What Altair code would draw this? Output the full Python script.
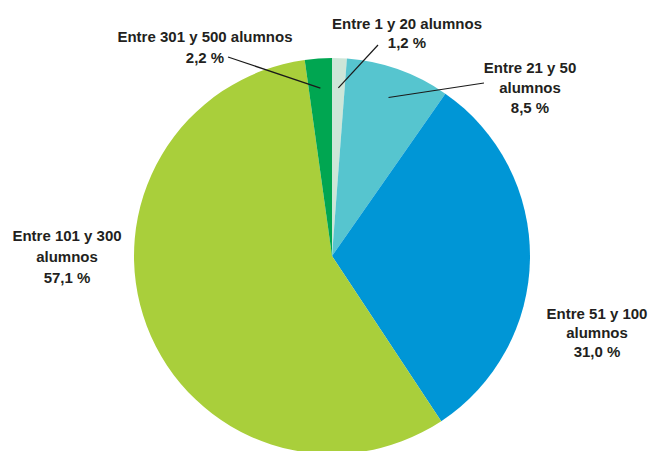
import math
import altair as alt
import pandas as pd

# ---- data ----
categories = [
    "Entre 1 y 20 alumnos",
    "Entre 21 y 50 alumnos",
    "Entre 51 y 100 alumnos",
    "Entre 101 y 300 alumnos",
    "Entre 301 y 500 alumnos",
]
values = [1.2, 8.5, 31.0, 57.1, 2.2]
colors = ["#cde6d8", "#56c5cf", "#0096d6", "#a9cf3b", "#00a651"]

# label text lines (name split as in the original)
label_lines = [
    ["Entre 1 y 20 alumnos"],
    ["Entre 21 y 50", "alumnos"],
    ["Entre 51 y 100", "alumnos"],
    ["Entre 101 y 300", "alumnos"],
    ["Entre 301 y 500 alumnos"],
]

# ---- layout (pixels, chart coordinates) ----
W, H = 641, 443
CX, CY, R = 324, 248, 198
label_x = [399, 522, 589, 59, 197]
label_top = [9, 53, 299, 221, 22]
label_gap = [19, 20, 19, 21, 21]
leader_out = [(370, 37), (476, 75), None, None, (220, 49)]
leader_frac = 0.85

def pct(v):
    return f"{v:.1f}".replace(".", ",") + " %"

pie_df = pd.DataFrame({"cat": categories, "value": values, "idx": range(len(values))})

text_rows = []
for i, (lines, v) in enumerate(zip(label_lines, values)):
    all_lines = lines + [pct(v)]
    for j, t in enumerate(all_lines):
        text_rows.append({"x": label_x[i], "y": label_top[i] + j * label_gap[i], "t": t})
text_df = pd.DataFrame(text_rows)

leader_rows = []
cum = 0.0
for i, v in enumerate(values):
    mid = 2 * math.pi * (cum + v / 2) / sum(values)
    cum += v
    if leader_out[i] is None:
        continue
    ix = CX + leader_frac * R * math.sin(mid)
    iy = CY - leader_frac * R * math.cos(mid)
    ox, oy = leader_out[i]
    leader_rows.append({"x1": ox, "y1": oy, "x2": ix, "y2": iy})
leader_df = pd.DataFrame(leader_rows)

pie = alt.Chart(pie_df).mark_arc(outerRadius=R).encode(
    theta=alt.Theta("value:Q", stack=True),
    order=alt.Order("idx:Q"),
    color=alt.Color("cat:N", scale=alt.Scale(domain=categories, range=colors), legend=None),
    x=alt.value(CX),
    y=alt.value(CY),
)

leaders = alt.Chart(leader_df).mark_rule(color="#1a1a1a", strokeWidth=1.2).encode(
    x=alt.X("x1:Q", scale=None, axis=None),
    y=alt.Y("y1:Q", scale=None, axis=None),
    x2="x2:Q",
    y2="y2:Q",
)

labels = alt.Chart(text_df).mark_text(
    align="center", baseline="top", font="Liberation Sans",
    fontSize=15, fontWeight="bold", color="#231f20",
).encode(
    x=alt.X("x:Q", scale=None, axis=None),
    y=alt.Y("y:Q", scale=None, axis=None),
    text="t:N",
)

chart = alt.layer(pie, leaders, labels).properties(
    width=W, height=H, padding=0, autosize=alt.AutoSizeParams(type="none"), background="white"
).configure_view(stroke=None)

chart.save("out.html", embed_options={"renderer": "svg", "actions": False})
